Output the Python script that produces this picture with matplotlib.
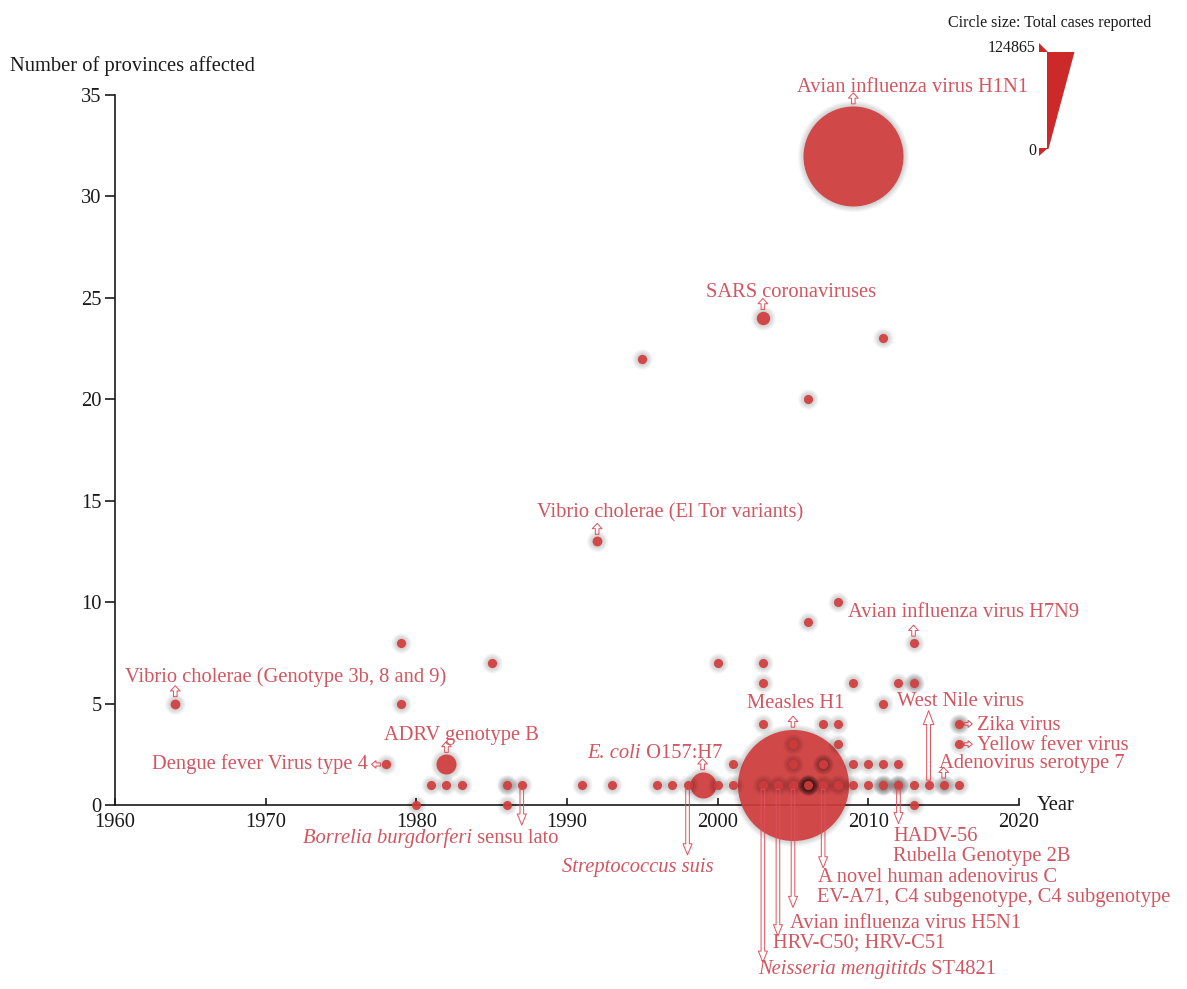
import matplotlib
matplotlib.use("Agg")
import matplotlib.pyplot as plt
from matplotlib.patches import FancyArrowPatch, Polygon

plt.rcParams["font.family"] = ["Liberation Serif", "DejaVu Serif"]

# ---------------------------------------------------------------------------
# Emerging pathogen outbreak records: year first reported, provinces affected,
# total cases, and how many reports share that year/province count.
# ---------------------------------------------------------------------------
years = [1964, 1978, 1979, 1979, 1980, 1981, 1982, 1982, 1983, 1985,
         1986, 1986, 1987, 1991, 1992, 1993, 1995, 1996, 1997, 1998,
         1999, 2000, 2000, 2001, 2001, 2003, 2003, 2003, 2003, 2003,
         2004, 2005, 2005, 2005, 2005, 2006, 2006, 2006, 2007, 2007,
         2007, 2008, 2008, 2008, 2008, 2009, 2009, 2009, 2009, 2010,
         2010, 2011, 2011, 2011, 2011, 2012, 2012, 2012, 2013, 2013,
         2013, 2013, 2014, 2015, 2016, 2016, 2016]
provinces = [5, 2, 8, 5, 0, 1, 2, 1, 1, 7,
             1, 0, 1, 1, 13, 1, 22, 1, 1, 1,
             1, 1, 7, 1, 2, 24, 1, 4, 6, 7,
             1, 1, 1, 2, 3, 1, 9, 20, 1, 2,
             4, 1, 3, 4, 10, 1, 2, 6, 32, 1,
             2, 1, 2, 5, 23, 1, 2, 6, 0, 1,
             6, 8, 1, 1, 1, 3, 4]
total_cases = [900, 400, 200, 200, 60, 120, 13500, 150, 120, 300,
               100, 40, 80, 150, 1000, 120, 400, 100, 100, 25,
               20800, 100, 200, 100, 100, 5327, 100, 100, 100, 100,
               100, 124865, 100, 100, 100, 100, 100, 200, 100, 100,
               100, 100, 100, 100, 100, 100, 100, 100, 111400, 100,
               100, 100, 100, 100, 200, 100, 100, 100, 100, 100,
               100, 100, 100, 100, 100, 100, 100]
n_reports = [1, 1, 1, 1, 1, 1, 1, 1, 1, 1,
             2, 1, 1, 1, 1, 1, 1, 1, 1, 1,
             1, 1, 1, 1, 1, 1, 1, 1, 1, 1,
             1, 1, 1, 1, 1, 6, 1, 1, 1, 2,
             1, 1, 1, 1, 1, 1, 1, 1, 1, 1,
             1, 3, 1, 1, 1, 3, 1, 1, 1, 1,
             2, 1, 1, 2, 1, 1, 2]
# pathogen names (italic parts wrapped in *...*)
pathogen = ["Vibrio cholerae (Genotype 3b, 8 and 9)", "Dengue fever Virus type 4",
            "", "", "", "", "ADRV genotype B", "", "", "",
            "", "", "*Borrelia burgdorferi* sensu lato", "",
            "Vibrio cholerae (El Tor variants)", "", "", "", "",
            "*Streptococcus suis*",
            "*E. coli* O157:H7", "", "", "", "", "SARS coronaviruses",
            "*Neisseria mengititds* ST4821", "", "", "",
            "HRV-C50; HRV-C51", "Measles H1", "Avian influenza virus H5N1",
            "", "", "", "", "", "A novel human adenovirus C", "",
            "", "", "", "", "", "", "", "", "Avian influenza virus H1N1", "",
            "", "", "", "", "", "HADV-56", "", "", "", "",
            "", "Avian influenza virus H7N9", "West Nile virus",
            "Adenovirus serotype 7", "", "Yellow fever virus", "Zika virus"]
# names listed beside another report's marker
extra_names = ["EV-A71, C4 subgenotype, C4 subgenotype", "Rubella Genotype 2B"]

CASES_MAX = 124865
legend_values = [0, CASES_MAX]
x_ticks = [1960, 1970, 1980, 1990, 2000, 2010, 2020]
y_ticks = [0, 5, 10, 15, 20, 25, 30, 35]

# ---------------------------------------------------------------------------
# Styling / layout
# ---------------------------------------------------------------------------
RED = "#d03c3c"
LABEL_RED = "#d2555f"
ARROW_RED = "#e0505a"
INK = "#1a1a1a"
W, H, DPI = 1187, 989, 100
R_MIN_PX, R_SPAN_PX = 4.5, 51.0
FS = 14.8

# label placement: text anchor (year, provinces), alignment, pointer kind, pointer tip
label_layout = {
    "Vibrio cholerae (Genotype 3b, 8 and 9)": (1960.66, 6.31, "left", "up", None),
    "Dengue fever Virus type 4": (1976.79, 2.02, "right", "left", None),
    "ADRV genotype B": (1977.85, 3.45, "left", "up", None),
    "*Borrelia burgdorferi* sensu lato": (1972.48, -1.63, "left", "down", -0.99),
    "Vibrio cholerae (El Tor variants)": (1988.0, 14.39, "left", "up", None),
    "*Streptococcus suis*": (1989.67, -3.06, "left", "down", -2.46),
    "*E. coli* O157:H7": (1991.33, 2.56, "left", "up", None),
    "SARS coronaviruses": (1999.23, 25.28, "left", "up", None),
    "*Neisseria mengititds* ST4821": (2002.68, -8.13, "left", "down", -7.75),
    "HRV-C50; HRV-C51": (2003.67, -6.80, "left", "down", -6.45),
    "Measles H1": (2001.95, 4.98, "left", "up", None),
    "Avian influenza virus H5N1": (2004.80, -5.82, "left", "down", -5.05),
    "A novel human adenovirus C": (2006.66, -3.56, "left", "down", -3.1),
    "EV-A71, C4 subgenotype, C4 subgenotype": (2006.59, -4.54, "left", None, None),
    "Avian influenza virus H1N1": (2005.27, 35.39, "left", "up", None),
    "Avian influenza virus H7N9": (2008.65, 9.51, "left", "up", None),
    "HADV-56": (2011.64, -1.53, "left", "down", -0.92),
    "Rubella Genotype 2B": (2011.64, -2.56, "left", None, None),
    "West Nile virus": (2011.90, 5.08, "left", "rise", 4.65),
    "Adenovirus serotype 7": (2014.69, 2.07, "left", "up", None),
    "Yellow fever virus": (2017.21, 2.91, "left", "right", None),
    "Zika virus": (2017.21, 3.94, "left", "right", None),
}

fig = plt.figure(figsize=(W / DPI, H / DPI), dpi=DPI)
ax = fig.add_axes([115 / W, 1 - 805 / H, 904 / W, 710 / H])
ax.set_xlim(x_ticks[0], x_ticks[-1])
ax.set_ylim(y_ticks[0], y_ticks[-1])

# pixels per data unit
pos = ax.get_position()
ppx = pos.width * W / (x_ticks[-1] - x_ticks[0])
ppy = pos.height * H / (y_ticks[-1] - y_ticks[0])

for s in ("top", "right"):
    ax.spines[s].set_visible(False)
for s in ("left", "bottom"):
    ax.spines[s].set_linewidth(1.2)
    ax.spines[s].set_color(INK)
ax.set_xticks(x_ticks)
ax.set_yticks(y_ticks)
ax.tick_params(axis="x", direction="in", length=5, width=1.2, pad=6,
               labelsize=FS, colors=INK)
ax.tick_params(axis="y", direction="out", length=7.5, width=1.2, pad=2,
               labelsize=FS, colors=INK)

# bubble radius grows linearly with the number of cases
radius_px = [R_MIN_PX + R_SPAN_PX * c / CASES_MAX for c in total_cases]
radius_pt = [r * 72 / DPI for r in radius_px]

order = sorted(range(len(years)), key=lambda i: -total_cases[i])
for rank, i in enumerate(order):
    z = 3 + rank * 0.01
    r = radius_pt[i]
    a = 1 - (1 - 0.035) ** n_reports[i]
    for k in range(1, 6):
        ax.scatter([years[i]], [provinces[i]], s=(2 * (r + 0.8 * k)) ** 2,
                   color="black", alpha=a, linewidths=0, zorder=z,
                   clip_on=False)
    ax.scatter([years[i]], [provinces[i]], s=(2 * r) ** 2, color=RED,
               alpha=0.92, linewidths=0, zorder=z + 0.005, clip_on=False)


def hollow_arrow(p0, p1, tail, head_w, head_l):
    ax.add_patch(FancyArrowPatch(
        p0, p1, mutation_scale=1, shrinkA=0, shrinkB=0,
        arrowstyle=f"simple,head_length={head_l},head_width={head_w},tail_width={tail}",
        fc="none", ec=ARROW_RED, lw=0.7, clip_on=False, zorder=6))


def put_label(name, x, y, ha):
    parts = [(p, k % 2 == 1) for k, p in enumerate(name.split("*")) if p]
    prev = None
    for txt, italic in parts:
        style = "italic" if italic else "normal"
        if prev is None:
            prev = ax.text(x, y, txt, ha=ha, va="center", fontsize=FS,
                           color=LABEL_RED, style=style, clip_on=False,
                           zorder=7)
        else:
            prev = ax.annotate(txt, xy=(1, 0), xycoords=prev, ha="left",
                               va="bottom", fontsize=FS, color=LABEL_RED,
                               style=style, annotation_clip=False, zorder=7)


for i, name in enumerate(pathogen):
    if not name:
        continue
    tx, ty, ha, kind, tip = label_layout[name]
    put_label(name, tx, ty, ha)
    x, y, r = years[i], provinces[i], radius_px[i]
    if kind == "up":
        y0 = y + (r + 2) / ppy
        hollow_arrow((x, y0), (x, y0 + 11 / ppy), 2.6, 7.0, 3.8)
    elif kind == "left":
        x0 = x - (r + 1) / ppx
        hollow_arrow((x0, y), (x0 - 9 / ppx, y), 2.2, 5.5, 3.2)
    elif kind == "right":
        x0 = x + (r + 1) / ppx
        hollow_arrow((x0, y), (x0 + 8 / ppx, y), 2.0, 5.0, 3.0)
    elif kind == "down":
        hollow_arrow((x, y - r / ppy), (x, tip), 2.6, 6.5, 8.0)
    elif kind == "rise":
        hollow_arrow((x, y + r / ppy), (x, tip), 2.8, 7.5, 10.0)

for name in extra_names:
    tx, ty, ha, _, _ = label_layout[name]
    put_label(name, tx, ty, ha)

# axis titles
fig.text(10 / W, 1 - 66 / H, "Number of provinces affected", ha="left",
         va="center", fontsize=FS, color=INK)
fig.text(1037 / W, 1 - 805 / H, "Year", ha="left", va="center",
         fontsize=FS, color=INK)

# size key: wedge whose width grows with the case count
lax = fig.add_axes([0, 0, 1, 1], zorder=-1)
lax.set_xlim(0, W)
lax.set_ylim(H, 0)
lax.axis("off")
KEY_X, KEY_BOTTOM, KEY_H, KEY_W = 1047, 149, 97, 26
lo, hi = legend_values
y_lo = KEY_BOTTOM - KEY_H * lo / CASES_MAX
y_hi = KEY_BOTTOM - KEY_H * hi / CASES_MAX
w_lo = 1.5 + KEY_W * lo / CASES_MAX
w_hi = 1.5 + KEY_W * hi / CASES_MAX
lax.add_patch(Polygon([(KEY_X, y_lo), (KEY_X, y_hi), (KEY_X + w_hi, y_hi),
                       (KEY_X + w_lo, y_lo)], closed=True, fc="#cc2a2a",
                      ec="none"))
lax.add_patch(Polygon([(KEY_X - 8, y_hi - 9), (KEY_X - 8, y_hi), (KEY_X + 1, y_hi)],
                      closed=True, fc="#cc2a2a", ec="none"))
lax.add_patch(Polygon([(KEY_X - 8, y_lo - 1), (KEY_X + 1, y_lo - 1), (KEY_X - 8, y_lo + 7)],
                      closed=True, fc="#cc2a2a", ec="none"))
lax.text(1036, y_hi - 4, f"{hi}", ha="right", va="center", fontsize=11.5,
         color=INK)
lax.text(1036, y_lo + 2, f"{lo}", ha="right", va="center", fontsize=11.5,
         color=INK)
lax.text(1050, 23, "Circle size: Total cases reported", ha="center",
         va="center", fontsize=11.5, color=INK)

fig.savefig("out.png", dpi=DPI)
